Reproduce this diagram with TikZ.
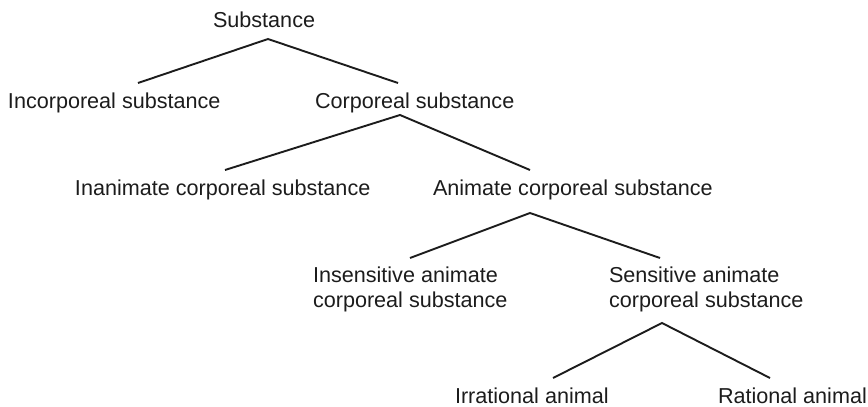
\documentclass[tikz,border=0pt]{standalone}
\usepackage{fontspec}
\setmainfont{Liberation Sans}
\definecolor{ink}{HTML}{1C1C1C}
\begin{document}
\begin{tikzpicture}[x=0.5pt,y=-0.5pt,
  label text/.style={anchor=base west,inner sep=0pt,outer sep=0pt,
    text=ink,align=left,font=\fontsize{10.8}{12.3}\selectfont},
  branch/.style={draw=ink,line width=0.95pt,line join=miter}]
\useasboundingbox (0,0) rectangle (868,407);

% taxonomy labels (two-line labels sit on the baseline of their last line)
\node[label text] (substance)   at (213,27)  {Substance};
\node[label text] (incorporeal) at (8,108)   {Incorporeal substance};
\node[label text] (corporeal)   at (315,108) {Corporeal substance};
\node[label text] (inanimate)   at (75,195)  {Inanimate corporeal substance};
\node[label text] (animate)     at (433,195) {Animate corporeal substance};
\node[label text] (insensitive) at (313,307) {Insensitive animate\\corporeal substance};
\node[label text] (sensitive)   at (609,307) {Sensitive animate\\corporeal substance};
\node[label text] (irrational)  at (455,403) {Irrational animal};
\node[label text] (rational)    at (718,403) {Rational animal};

% fork points under each parent and tips above each child
\coordinate (substance-fork)  at (268,39);
\coordinate (incorporeal-tip) at (138,83);
\coordinate (corporeal-tip)   at (398,83);
\coordinate (corporeal-fork)  at (400,115);
\coordinate (inanimate-tip)   at (225,170);
\coordinate (animate-tip)     at (530,170);
\coordinate (animate-fork)    at (530,213);
\coordinate (insensitive-tip) at (410,258);
\coordinate (sensitive-tip)   at (660,258);
\coordinate (sensitive-fork)  at (662,323);
\coordinate (irrational-tip)  at (553,378);
\coordinate (rational-tip)    at (770,378);

% branches
\draw[branch] (incorporeal-tip) -- (substance-fork) -- (corporeal-tip);
\draw[branch] (inanimate-tip) -- (corporeal-fork) -- (animate-tip);
\draw[branch] (insensitive-tip) -- (animate-fork) -- (sensitive-tip);
\draw[branch] (irrational-tip) -- (sensitive-fork) -- (rational-tip);
\end{tikzpicture}
\end{document}
